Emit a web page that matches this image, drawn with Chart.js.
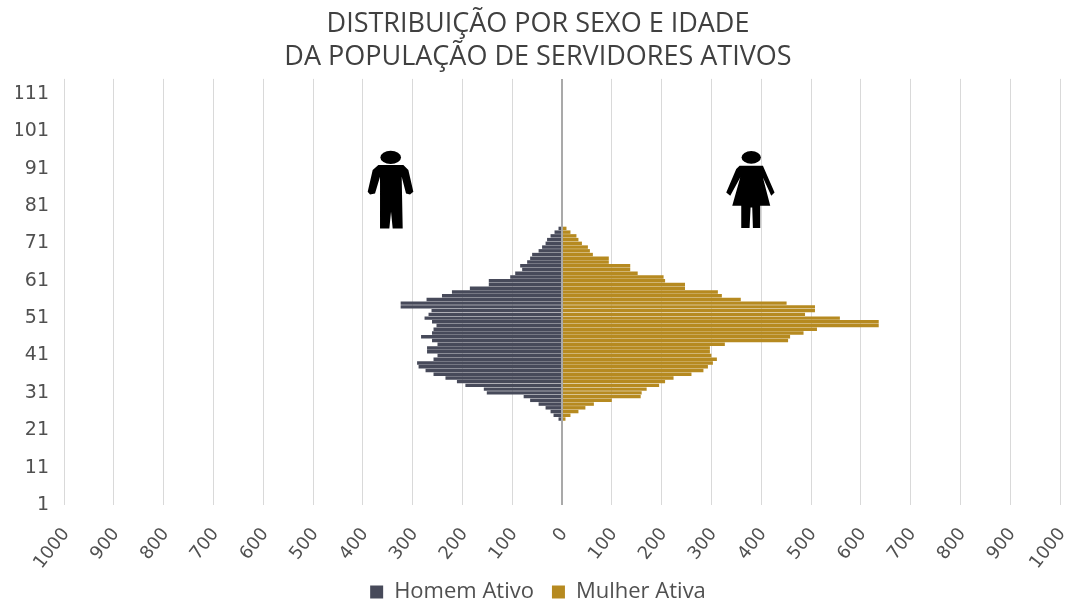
<!DOCTYPE html>
<html>
<head>
<meta charset="utf-8">
<script src="https://cdn.jsdelivr.net/npm/chart.js@4/dist/chart.umd.min.js"></script>
<style>
    html, body { margin: 0; padding: 0; background: #fff; }
    #wrap { width: 1070px; height: 605px; }
</style>
</head>
<body>
<div id="wrap"><canvas id="chart" width="1070" height="605"></canvas></div>
<script>
// ages 1 to 115, bottom to top
var ages = [1,2,3,4,5,6,7,8,9,10,11,12,13,14,15,16,17,18,19,20,
    21,22,23,24,25,26,27,28,29,30,31,32,33,34,35,36,37,38,39,40,
    41,42,43,44,45,46,47,48,49,50,51,52,53,54,55,56,57,58,59,60,
    61,62,63,64,65,66,67,68,69,70,71,72,73,74,75,76,77,78,79,80,
    81,82,83,84,85,86,87,88,89,90,91,92,93,94,95,96,97,98,99,100,
    101,102,103,104,105,106,107,108,109,110,111,112,113,114,115];

var ageTicks = ["1","11","21","31","41","51","61","71","81","91","101","111"];
var valueTicks = [-1000,-900,-800,-700,-600,-500,-400,-300,-200,-100,0,100,200,300,400,500,600,700,800,900,1000];

// shown to the left, so the values are negative
var homemAtivo = [0,0,0,0,0,0,0,0,0,0,0,0,0,0,0,0,0,0,0,0,
    0,0,-2,-7,-17,-23,-33,-47,-64,-77,-151,-157,-194,-211,-234,-258,-274,-288,-291,-258,
    -250,-271,-271,-250,-261,-283,-261,-258,-252,-261,-276,-268,-262,-324,-324,-272,-241,-221,-185,-147,
    -147,-104,-94,-80,-84,-70,-64,-60,-47,-40,-33,-30,-23,-15,-7,0,0,0,0,0,
    0,0,0,0,0,0,0,0,0,0,0,0,0,0,0,0,0,0,0,0,
    0,0,0,0,0,0,0,0,0,0,0,0,0,0,0];

var mulherAtiva = [0,0,0,0,0,0,0,0,0,0,0,0,0,0,0,0,0,0,0,0,
    0,0,2,7,17,33,47,64,100,158,160,170,195,207,224,260,284,293,303,311,
    300,297,297,327,454,458,485,512,636,636,558,488,508,508,451,359,321,313,247,247,
    207,204,152,137,137,94,94,62,56,52,40,33,29,17,9,0,0,0,0,0,
    0,0,0,0,0,0,0,0,0,0,0,0,0,0,0,0,0,0,0,0,
    0,0,0,0,0,0,0,0,0,0,0,0,0,0,0];

var titleLines = ["DISTRIBUIÇÃO POR SEXO E IDADE", "DA POPULAÇÃO DE SERVIDORES ATIVOS"];

// outline of the two figures, in a 3x grid around the head centre
var manBody = [[-37,23],[38,23],[53,38],[68,103],[58,111],[46,108],[33,58],[36,213],[6,213],[1,163],[-4,213],[-32,213],[-32,58],[-47,108],[-62,111],[-69,103],[-54,38]];
var womanBody = [[-35,25],[35,25],[70,105],[60,115],[35,60],[57,145],[27,145],[27,212],[5,212],[3,150],[-2,150],[-5,212],[-30,212],[-30,145],[-57,145],[-33,60],[-63,115],[-75,105],[-45,35]];

function drawPerson(ctx, x, y, body, headRx, headRy) {
    ctx.save();
    ctx.translate(x, y);
    ctx.scale(1 / 3, 1 / 3);
    ctx.fillStyle = "#000";
    ctx.beginPath();
    ctx.ellipse(0, 0, headRx, headRy, 0, 0, Math.PI * 2);
    ctx.fill();
    ctx.beginPath();
    body.forEach(function (p, i) {
        if (i == 0) ctx.moveTo(p[0], p[1]); else ctx.lineTo(p[0], p[1]);
    });
    ctx.closePath();
    ctx.fill();
    ctx.restore();
}

var peoplePlugin = {
    id: "people",
    beforeLayout: function (chart) {
        // legend padding also widens the gap between items, keep its box short
        var legend = chart.legend;
        if (!legend.origFit) {
            legend.origFit = legend.fit;
            legend.fit = function () {
                legend.origFit.call(legend);
                legend.height = 28;
            };
        }
    },
    afterLayout: function (chart) {
        // x labels need the room below the axis, legend text sits beside their tips
        chart.legend.top -= 12;
    },
    afterDraw: function (chart) {
        var sx = chart.scales.x, sy = chart.scales.y;
        var headY = sy.getPixelForValue(ages.indexOf(94));
        drawPerson(chart.ctx, sx.getPixelForValue(-344), headY, manBody, 31, 20);
        drawPerson(chart.ctx, sx.getPixelForValue(380), headY, womanBody, 29, 19);
    }
};

new Chart(document.getElementById("chart").getContext("2d"), {
    type: "bar",
    plugins: [peoplePlugin],
    data: {
        labels: ages,
        datasets: [
            { label: "Homem Ativo", data: homemAtivo, backgroundColor: "#474a5a", barPercentage: 0.92, categoryPercentage: 1 },
            { label: "Mulher Ativa", data: mulherAtiva, backgroundColor: "#b68a20", barPercentage: 0.92, categoryPercentage: 1 }
        ]
    },
    options: {
        indexAxis: "y",
        responsive: false,
        animation: false,
        layout: { padding: { left: 16, right: 10, top: 8, bottom: 2 } },
        scales: {
            x: {
                stacked: true,
                min: -1000,
                max: 1000,
                afterFit: function (scale) {
                    scale.height = 70;
                    scale.paddingLeft = 0;
                    scale.paddingRight = 0;
                },
                afterBuildTicks: function (scale) {
                    scale.ticks = valueTicks.map(function (v) { return { value: v }; });
                },
                border: { display: false },
                grid: {
                    drawTicks: false,
                    lineWidth: function (c) { return c.tick && c.tick.value == 0 ? 2 : 1; },
                    color: function (c) { return c.tick && c.tick.value == 0 ? "#a9a9a9" : "#d9d9d9"; }
                },
                ticks: {
                    autoSkip: false,
                    maxRotation: 52,
                    minRotation: 52,
                    padding: 19,
                    labelOffset: 2,
                    color: "#505050",
                    font: { family: "'DejaVu Sans'", size: 18 },
                    callback: function (v) { return String(Math.abs(v)); }
                }
            },
            y: {
                type: "category",
                stacked: true,
                reverse: true,
                offset: false,
                afterFit: function (scale) { scale.width = 48; },
                border: { display: false },
                grid: {
                    drawTicks: false,
                    drawOnChartArea: true,
                    color: function (c) { return c.index == 0 ? "#e4e4e4" : "transparent"; }
                },
                ticks: {
                    autoSkip: false,
                    padding: 15,
                    color: "#505050",
                    font: { family: "'DejaVu Sans'", size: 19 },
                    callback: function (v, i) {
                        var label = String(ages[i]);
                        return ageTicks.indexOf(label) >= 0 ? label : "";
                    }
                }
            }
        },
        plugins: {
            title: {
                display: true,
                text: titleLines,
                color: "#404040",
                font: { family: "'Open Sans'", size: 27, weight: "normal", lineHeight: 1.22 },
                padding: { top: 0, bottom: 5 }
            },
            legend: {
                position: "bottom",
                labels: {
                    color: "#505050",
                    boxWidth: 13,
                    boxHeight: 13,
                    padding: 18,
                    font: { family: "'Open Sans'", size: 22 }
                }
            },
            tooltip: { enabled: false }
        }
    }
});
</script>
</body>
</html>
